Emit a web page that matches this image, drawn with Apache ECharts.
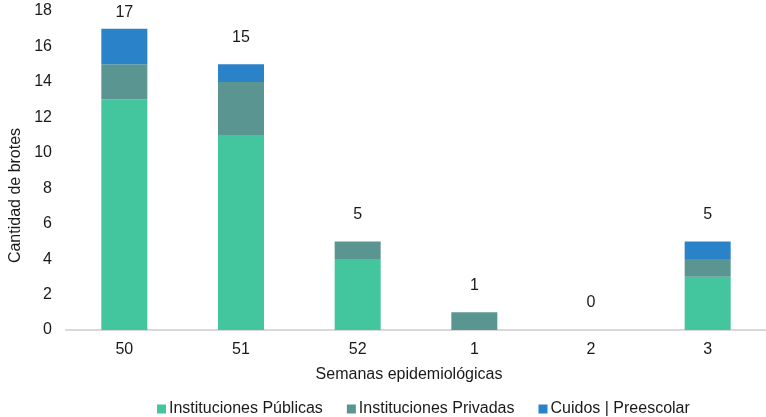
<!DOCTYPE html>
<html>
<head>
<meta charset="utf-8">
<script src="https://cdn.jsdelivr.net/npm/echarts@6/dist/echarts.min.js"></script>
<style>
  html, body { margin: 0; padding: 0; background: #fff; }
  #main { width: 766px; height: 417px; }
</style>
</head>
<body>
<div id="main"></div>
<script>
var semanas = ['50', '51', '52', '1', '2', '3'];
var publicas = [13, 11, 4, 0, 0, 3];
var privadas = [2, 3, 1, 1, 0, 1];
var cuidos = [2, 1, 0, 0, 0, 1];
var totales = semanas.map(function (s, i) { return publicas[i] + privadas[i] + cuidos[i]; });

var fuente = '"Liberation Sans", Arial, sans-serif';
var texto = '#1a1a1a';
var chart = echarts.init(document.getElementById('main'));

var option = {
  animation: false,
  textStyle: { fontFamily: fuente, fontSize: 16, color: texto },
  grid: { left: 66, right: 0, top: 11, bottom: 87, outerBoundsMode: 'none', containLabel: false },
  legend: {
    data: ['Instituciones Públicas', 'Instituciones Privadas', 'Cuidos | Preescolar'],
    left: 152, top: 396,
    itemWidth: 9, itemHeight: 9, itemGap: 24,
    icon: 'rect',
    textStyle: { fontFamily: fuente, fontSize: 16, color: texto, padding: [0, 0, 0, -2] }
  },
  xAxis: {
    type: 'category',
    data: semanas,
    name: 'Semanas epidemiológicas',
    nameLocation: 'middle',
    nameGap: 37,
    nameTextStyle: { fontFamily: fuente, fontSize: 16, color: texto, padding: [0, 14, 0, 0] },
    axisLine: { lineStyle: { color: '#d9d9d9', width: 2 } },
    axisTick: { show: false },
    axisLabel: { margin: 12, fontFamily: fuente, fontSize: 16, color: texto }
  },
  yAxis: {
    type: 'value',
    min: 0, max: 18, interval: 2,
    name: 'Cantidad de brotes',
    nameLocation: 'middle',
    nameGap: 37,
    nameTextStyle: { fontFamily: fuente, fontSize: 16, color: texto, padding: [0, 50, 0, 0] },
    axisLine: { show: false },
    axisTick: { show: false },
    splitLine: { show: false },
    axisLabel: { margin: 14, fontFamily: fuente, fontSize: 16, color: texto }
  },
  series: [
    {
      name: 'Instituciones Públicas', type: 'bar', stack: 'total', barWidth: 46,
      itemStyle: { color: '#43C59E' },
      data: publicas
    },
    {
      name: 'Instituciones Privadas', type: 'bar', stack: 'total', barWidth: 46,
      itemStyle: { color: '#5A9591' },
      data: privadas
    },
    {
      name: 'Cuidos | Preescolar', type: 'bar', stack: 'total', barWidth: 46,
      itemStyle: { color: '#2A82C8' },
      data: cuidos
    },
    {
      name: 'Total', type: 'bar', barWidth: 46, barGap: '-100%', z: 1,
      itemStyle: { color: 'rgba(0,0,0,0)' },
      label: {
        show: true, position: 'top', distance: 19,
        fontFamily: fuente, fontSize: 16, color: texto
      },
      data: totales.map(function (v, i) {
        return i === 0 ? { value: v, label: { distance: 8 } } : v;
      })
    }
  ]
};

chart.setOption(option);
</script>
</body>
</html>
